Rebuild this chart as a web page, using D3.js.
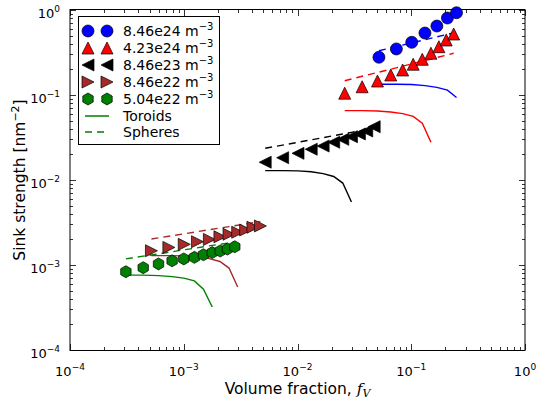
<!DOCTYPE html>
<html><head><meta charset="utf-8">
<script src="https://cdn.jsdelivr.net/npm/d3@7"></script>
<style>body{margin:0;background:#fff}svg{display:block}text{font-family:"DejaVu Sans",sans-serif}</style>
</head><body><svg id="c" width="539" height="405"></svg>
<script>
// ---- data ----
const fvBlue  = [0.052, 0.074, 0.101, 0.132, 0.168, 0.208, 0.25];
const kBlue   = [0.278, 0.348, 0.417, 0.536, 0.648, 0.805, 0.929];
const torBlue = [0.134, 0.134, 0.133, 0.129, 0.123, 0.114, 0.0935];
const sphBlue = [0.332, 0.371, 0.41, 0.447, 0.483, 0.517, 0.549];

const fvRed  = [0.026, 0.037, 0.0505, 0.066, 0.084, 0.104, 0.125, 0.149, 0.175, 0.203, 0.236];
const kRed   = [0.105, 0.125, 0.146, 0.172, 0.197, 0.230, 0.263, 0.31, 0.37, 0.444, 0.522];
const torRed = [0.0655, 0.0655, 0.0648, 0.0632, 0.0603, 0.056, 0.0465, 0.0278];
const sphRed = [0.147, 0.166, 0.184, 0.201, 0.218, 0.235, 0.25, 0.265, 0.28, 0.294, 0.31];

const fvBlack  = [0.0052, 0.0074, 0.0101, 0.0132, 0.0168, 0.0208, 0.025, 0.0298, 0.035, 0.0406, 0.0472];
const kBlack   = [0.0162, 0.0183, 0.0206, 0.023, 0.0251, 0.0278, 0.0301, 0.0323, 0.0348, 0.0377, 0.0424];
const torBlack = [0.0129, 0.0129, 0.0128, 0.0125, 0.0119, 0.011, 0.0092, 0.0055];
const sphBlack = [0.0236, 0.0257, 0.0278, 0.0297, 0.0315, 0.0332, 0.0348, 0.0363, 0.0378, 0.0392, 0.0407];

const fvBrown  = [0.00052, 0.00074, 0.00101, 0.00132, 0.00168, 0.00208, 0.0025, 0.00298, 0.0035, 0.00406, 0.00472];
const kBrown   = [0.00147, 0.00161, 0.00175, 0.00188, 0.002, 0.00215, 0.0023, 0.00243, 0.00258, 0.00278, 0.00288];
const torBrown = [0.00129, 0.00129, 0.00128, 0.00125, 0.00119, 0.0011, 0.00092, 0.00055];
const sphBrown = [0.00202, 0.00218, 0.00233, 0.00247, 0.0026, 0.00272, 0.00283, 0.00294, 0.00304, 0.00314, 0.00324];

const fvGreen  = [0.00031, 0.00044, 0.0006, 0.00079, 0.001, 0.00124, 0.00149, 0.00178, 0.00209, 0.00242, 0.00281];
const kGreen   = [0.000834, 0.000929, 0.00103, 0.00112, 0.00118, 0.00123, 0.00132, 0.0014, 0.00146, 0.00154, 0.00164];
const torGreen = [0.00076, 0.00076, 0.00075, 0.00073, 0.0007, 0.00065, 0.00052, 0.00032];
const sphGreen = [0.00118, 0.00127, 0.00135, 0.00143, 0.00151, 0.00157, 0.00164, 0.0017, 0.00175, 0.00181, 0.00187];

const seriesLabels = ["8.46e24", "4.23e24", "8.46e23", "8.46e22", "5.04e22"];
const tickExps = [-4, -3, -2, -1, 0];

const series = [
  {label: seriesLabels[0], color: "#0000ff", marker: "circle", fv: fvBlue,  k: kBlue,  tor: torBlue,  sph: sphBlue},
  {label: seriesLabels[1], color: "#ff0000", marker: "up",     fv: fvRed,   k: kRed,   tor: torRed,   sph: sphRed},
  {label: seriesLabels[2], color: "#000000", marker: "left",   fv: fvBlack, k: kBlack, tor: torBlack, sph: sphBlack},
  {label: seriesLabels[3], color: "#a52a2a", marker: "right",  fv: fvBrown, k: kBrown, tor: torBrown, sph: sphBrown},
  {label: seriesLabels[4], color: "#008000", marker: "hex",    fv: fvGreen, k: kGreen, tor: torGreen, sph: sphGreen}
];

// ---- layout ----
const L = 70, R = 525, T = 10, B = 350;
const svg = d3.select("#c");
const x = d3.scaleLog().domain([1e-4, 1]).range([L, R]);
const y = d3.scaleLog().domain([1e-4, 1]).range([B, T]);

function markerPath(type, h) {
  const p = d3.path();
  if (type === "circle") { p.arc(0, 0, h, 0, 2 * Math.PI); p.closePath(); }
  else if (type === "up") { p.moveTo(0, -h); p.lineTo(h, h); p.lineTo(-h, h); p.closePath(); }
  else if (type === "left") { p.moveTo(-h, 0); p.lineTo(h, -h); p.lineTo(h, h); p.closePath(); }
  else if (type === "right") { p.moveTo(h, 0); p.lineTo(-h, -h); p.lineTo(-h, h); p.closePath(); }
  else if (type === "hex") {
    for (let i = 0; i < 6; i++) {
      const a = -Math.PI / 2 + i * Math.PI / 3;
      const px = h * Math.cos(a), py = h * Math.sin(a);
      if (i === 0) p.moveTo(px, py); else p.lineTo(px, py);
    }
    p.closePath();
  }
  return p.toString();
}
const msize = {circle: 6, up: 6, left: 6, right: 6, hex: 6};

// ticks
const ticksG = svg.append("g").attr("stroke", "#000").attr("stroke-width", 0.8);
const minor = [];
for (let e = -4; e < 0; e++) for (let m = 2; m <= 9; m++) minor.push(m * Math.pow(10, e));
const major = tickExps.map(e => Math.pow(10, e));
function addTicks(vals, len) {
  vals.forEach(v => {
    const xp = Math.round(x(v)) + 0.5, yp = Math.round(y(v)) + 0.5;
    ticksG.append("line").attr("x1", xp).attr("x2", xp).attr("y1", B).attr("y2", B - len);
    ticksG.append("line").attr("x1", xp).attr("x2", xp).attr("y1", T).attr("y2", T + len);
    ticksG.append("line").attr("y1", yp).attr("y2", yp).attr("x1", L).attr("x2", L + len);
    ticksG.append("line").attr("y1", yp).attr("y2", yp).attr("x1", R).attr("x2", R - len);
  });
}
addTicks(minor, 3);
addTicks(major, 6);

// lines
const line = d3.line().x(d => x(d[0])).y(d => y(d[1]));
series.forEach(s => {
  svg.append("path").attr("d", line(s.tor.map((v, i) => [s.fv[i], v])))
    .attr("fill", "none").attr("stroke", s.color).attr("stroke-width", 1.4);
  svg.append("path").attr("d", line(s.sph.map((v, i) => [s.fv[i], v])))
    .attr("fill", "none").attr("stroke", s.color).attr("stroke-width", 1.4)
    .attr("stroke-dasharray", "7,5");
});
// markers
series.forEach(s => {
  svg.append("g").selectAll("path").data(s.fv.map((v, i) => [v, s.k[i]])).join("path")
    .attr("d", markerPath(s.marker, msize[s.marker]))
    .attr("transform", d => `translate(${x(d[0])},${y(d[1])})`)
    .attr("fill", s.color).attr("stroke", "#000").attr("stroke-width", 0.7);
});

// spines
const sp = svg.append("g").attr("stroke", "#000").attr("stroke-width", 1).attr("fill", "none");
sp.append("line").attr("x1", L).attr("x2", R).attr("y1", B + 0.5).attr("y2", B + 0.5);
sp.append("line").attr("x1", L).attr("x2", R).attr("y1", T - 0.5).attr("y2", T - 0.5);
sp.append("line").attr("x1", L).attr("x2", L).attr("y1", T - 1).attr("y2", B + 1);
sp.append("line").attr("x1", R).attr("x2", R).attr("y1", T - 1).attr("y2", B + 1);

// tick labels
tickExps.forEach(e => {
  const v = Math.pow(10, e);
  const tx = svg.append("text").attr("x", x(v)).attr("y", 376).attr("text-anchor", "middle")
    .attr("font-size", 13).attr("fill", "#000");
  tx.append("tspan").text("10");
  tx.append("tspan").attr("dy", -6).attr("font-size", 9).text(e === 0 ? "0" : "\u2212" + (-e));
  const ty = svg.append("text").attr("x", 60).attr("y", y(v) + 8).attr("text-anchor", "end")
    .attr("font-size", 13).attr("fill", "#000");
  ty.append("tspan").text("10");
  ty.append("tspan").attr("dy", -6).attr("font-size", 9).text(e === 0 ? "0" : "\u2212" + (-e));
});

// axis labels
const xl = svg.append("text").attr("x", (L + R) / 2).attr("y", 394).attr("text-anchor", "middle")
  .attr("font-size", 15.5);
xl.append("tspan").text("Volume fraction, ");
xl.append("tspan").attr("font-family", "DejaVu Serif").attr("font-style", "italic").text("f");
xl.append("tspan").attr("font-family", "DejaVu Serif").attr("font-style", "italic")
  .attr("font-size", 11).attr("dy", 3).text("V");

const yl = svg.append("text").attr("transform", `translate(25,${(T + B) / 2}) rotate(-90)`)
  .attr("text-anchor", "middle").attr("font-size", 15.5);
yl.append("tspan").text("Sink strength [nm");
yl.append("tspan").attr("font-size", 11).attr("dy", -6).text("\u22122");
yl.append("tspan").attr("dy", 6).text("]");

// legend
const lg = svg.append("g");
lg.append("rect").attr("x", 78.5).attr("y", 16.5).attr("width", 141).attr("height", 128)
  .attr("fill", "#fff").attr("stroke", "#000").attr("stroke-width", 1);
const rowY = [31, 48, 65, 82, 99, 116, 132];
series.forEach((s, i) => {
  [88, 107].forEach(mx => {
    lg.append("path").attr("d", markerPath(s.marker, msize[s.marker]))
      .attr("transform", `translate(${mx},${rowY[i]})`)
      .attr("fill", s.color).attr("stroke", "#000").attr("stroke-width", 0.7);
  });
  const t = lg.append("text").attr("x", 123).attr("y", rowY[i] + 5).attr("font-size", 14);
  t.append("tspan").text(s.label + " m");
  t.append("tspan").attr("font-size", 10).attr("dy", -6).text("\u22123");
});
lg.append("line").attr("x1", 85).attr("x2", 109).attr("y1", rowY[5]).attr("y2", rowY[5])
  .attr("stroke", "#008000").attr("stroke-width", 1.5);
lg.append("line").attr("x1", 85).attr("x2", 109).attr("y1", rowY[6]).attr("y2", rowY[6])
  .attr("stroke", "#008000").attr("stroke-width", 1.5).attr("stroke-dasharray", "7,5");
lg.append("text").attr("x", 123).attr("y", rowY[5] + 5).attr("font-size", 14).text("Toroids");
lg.append("text").attr("x", 123).attr("y", rowY[6] + 5).attr("font-size", 14).text("Spheres");
</script></body></html>
